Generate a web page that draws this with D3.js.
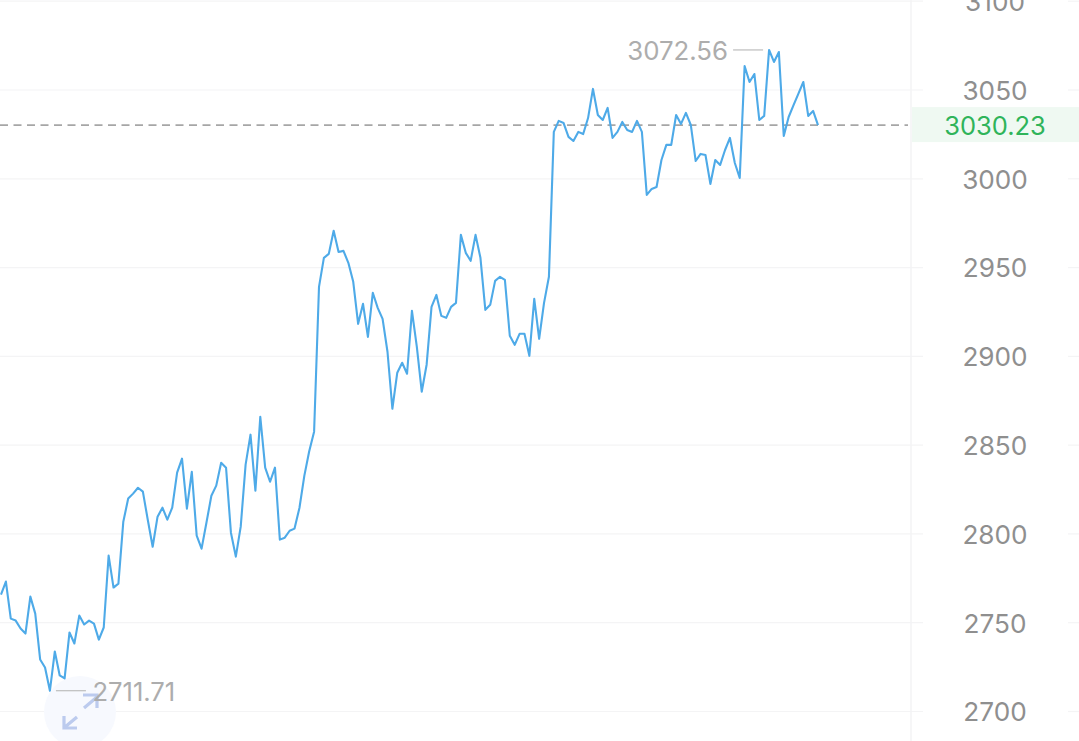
<!DOCTYPE html>
<html>
<head>
<meta charset="utf-8">
<script src="https://cdn.jsdelivr.net/npm/d3@7/dist/d3.min.js"></script>
<style>
html,body{margin:0;padding:0;background:#fff;overflow:hidden}
svg{display:block}
text{font-family:Inter,Roboto,sans-serif}
</style>
</head>
<body>
<svg id="c" width="1079" height="741"></svg>
<script>
const tickValues = [2700, 2750, 2800, 2850, 2900, 2950, 3000, 3050, 3100];
const lastPrice = 3030.23;
const highPrice = 3072.56;
const lowPrice = 2711.71;
const pricesA = [2765.8,2773.2,2752.3,2751.2,2746.7,2743.9,2764.7,2755.1,2729.3,2724.8,2711.71,2733.8,2720.3,2718.6,2744.5,2738.3,2754,2749,2751.2,2749.5,2740.5,2747.3];
const pricesB = [2787.8,2769.8,2772,2806.9,2819.9,2822.7,2826,2823.8,2808,2792.8,2809.7,2814.8,2808,2814.8,2834.5,2842.4,2814.2,2835,2799,2791.7,2806.4,2821.5,2827.2,2840.1,2837.3,2800.7,2787.2,2804.1,2839,2855.9,2824.4,2866,2837.3,2829.4,2837.3,2796.8,2797.9,2801.8,2803,2814.6];
const pricesC = [2832.7,2846.6,2857.6];
const pricesD = [2939.1,2955.5,2957.7,2970.7,2958.8,2959.4,2952.7,2942,2918.3,2929.6,2911,2935.8,2927.3,2921.1,2902.6,2870.5,2890.8,2896.4,2890.2,2925.6,2905.4,2880.1,2895.3,2927.9,2934.6,2922.8,2921.7,2927.9,2930.1,2968.4,2958.3,2953.8,2968.4,2955.5,2926.2,2929,2942.5,2944.8,2943.1,2911.6,2906.5,2912.7,2912.7,2900.3,2932.4,2909.9,2930.1,2944.8];
const pricesE = [3026.4,3032.6,3031.4,3023.6,3021.3,3026.4,3025.2,3034.2,3050.6,3035.9,3033.1,3039.9,3023,3026.4,3032,3027.5,3026.4,3032.6,3026.4,2990.9,2994.3,2995.4,3010.6,3019.1,3019.1,3035.9,3030.9,3037.1,3030.3,3010,3014,3013.4,2997.1,3010.6,3007.8,3016.2,3023,3008.9,3000.5,3063.5,3054.5,3059,3033.1,3035.4,3072.56,3065.8,3071.4,3024.1,3034.8,3041.5,3048,3054.5,3035.4,3038.2,3030.23];
const prices = [...pricesA, ...pricesB, ...pricesC, ...pricesD, ...pricesE];

const W = 1079, H = 741, plotRight = 911;
const svg = d3.select('#c');
const x = d3.scaleLinear().domain([0, prices.length - 1]).range([1, 818]);
const y = d3.scaleLinear().domain([2700, 3050]).range([711.5, 90]);
const fmt = d3.format('.2f');

// grid: left part, short right-of-axis stub
const grid = svg.append('g').attr('stroke', '#f4f4f5').attr('stroke-width', 1.2);
grid.selectAll('line.a').data(tickValues).join('line').attr('class', 'a')
  .attr('x1', 0).attr('x2', 923).attr('y1', d => y(d)).attr('y2', d => y(d));
grid.selectAll('line.b').data(tickValues).join('line').attr('class', 'b')
  .attr('x1', 1068).attr('x2', W).attr('y1', d => y(d)).attr('y2', d => y(d));
svg.append('line').attr('x1', plotRight).attr('x2', plotRight).attr('y1', 0).attr('y2', H)
  .attr('stroke', '#f3f3f4').attr('stroke-width', 1.5);

// last price band
svg.append('rect').attr('x', plotRight + 1).attr('width', W - plotRight - 1)
  .attr('y', y(lastPrice) - 18).attr('height', 35).attr('fill', '#eff9f2');

// y axis
const axis = d3.axisRight(y).tickValues(tickValues).tickSize(0).tickPadding(0).tickFormat(d3.format('d'));
const gAxis = svg.append('g').attr('transform', 'translate(995,1)').call(axis);
gAxis.select('.domain').remove();
gAxis.selectAll('text').attr('text-anchor', 'middle').attr('x', 0)
  .style('font-size', '26.2px').style('font-family', 'Inter,Roboto,sans-serif').attr('fill', '#8f8f8f');

// last price
svg.append('line').attr('x1', 0).attr('x2', 908).attr('y1', y(lastPrice)).attr('y2', y(lastPrice))
  .attr('stroke', '#a6a6a6').attr('stroke-width', 1.6).attr('stroke-dasharray', '8 5.5');
svg.append('text').attr('x', 995).attr('y', y(lastPrice) + 1).attr('dy', '0.36em')
  .attr('text-anchor', 'middle').style('font-size', '25.5px').attr('fill', '#2fb45a').text(fmt(lastPrice));

// expand button
const btn = svg.append('g').attr('transform', 'translate(80,712)');
btn.append('circle').attr('r', 36).attr('fill', '#f7f9fe');

// line
const line = d3.line().x((d, i) => x(i)).y(d => y(d)).curve(d3.curveLinear);
svg.append('path').datum(prices).attr('d', line).attr('fill', 'none')
  .attr('stroke', '#4eaae8').attr('stroke-width', 2.1).attr('stroke-linejoin', 'round');

// high / low labels
const hiI = prices.indexOf(highPrice), loI = prices.indexOf(lowPrice);
svg.append('line').attr('x1', x(hiI) - 36).attr('x2', x(hiI) - 6).attr('y1', y(highPrice)).attr('y2', y(highPrice))
  .attr('stroke', '#bdbdbd').attr('stroke-width', 1.2);
svg.append('text').attr('x', x(hiI) - 41).attr('y', y(highPrice) + 1).attr('dy', '0.36em')
  .attr('text-anchor', 'end').style('font-size', '25.8px').attr('fill', '#adadad').text(fmt(highPrice));
svg.append('line').attr('x1', x(loI) + 6).attr('x2', x(loI) + 36).attr('y1', y(lowPrice)).attr('y2', y(lowPrice))
  .attr('stroke', '#bdbdbd').attr('stroke-width', 1.2);
svg.append('text').attr('x', x(loI) + 42.5).attr('y', y(lowPrice) + 1.5).attr('dy', '0.36em')
  .attr('text-anchor', 'start').style('font-size', '25.6px').attr('fill', '#adadad').text(fmt(lowPrice));

// expand arrows over the label
btn.append('path').attr('fill', 'none').attr('stroke', '#b5c5ec').attr('stroke-width', 3.2)
  .attr('stroke-opacity', 0.9)
  .attr('d', 'M4,-4 L17,-15 M3,-17 H17 V-4 M-3,5 L-15,15 M-16,4 V16 H-3');
</script>
</body>
</html>
